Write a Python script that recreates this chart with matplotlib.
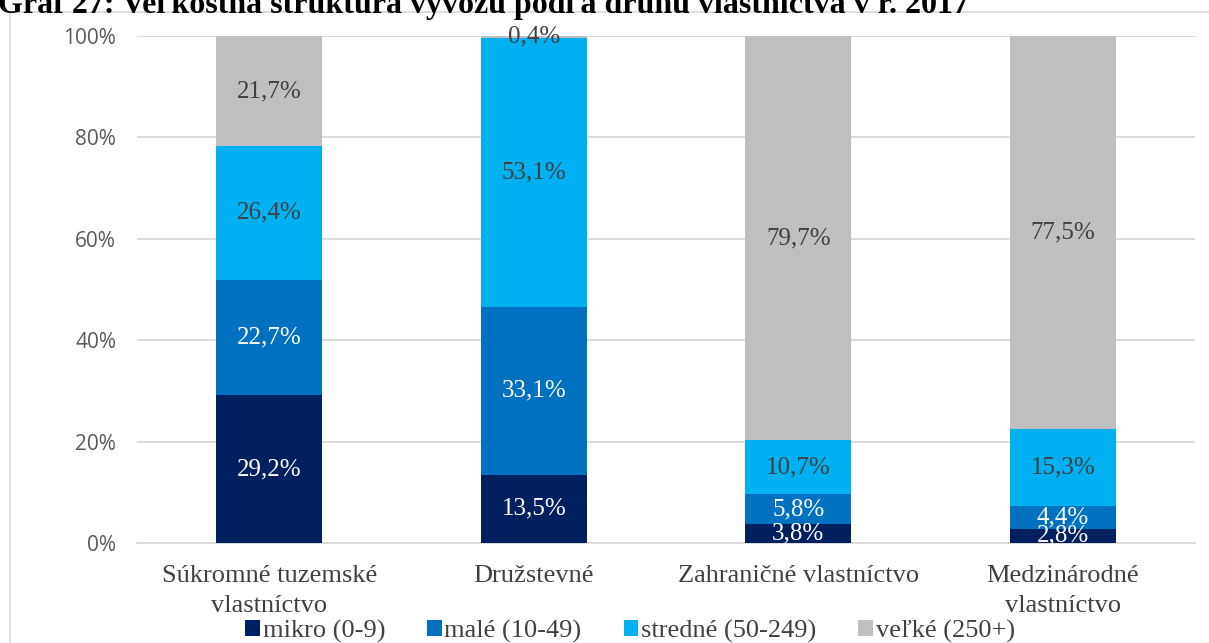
import matplotlib
matplotlib.use("Agg")
import matplotlib.pyplot as plt
from matplotlib.patches import Rectangle
import numpy as np

categories = ["Súkromné tuzemské\nvlastníctvo", "Družstevné", "Zahraničné vlastníctvo", "Medzinárodné\nvlastníctvo"]
series_names = ["mikro (0-9)", "malé (10-49)", "stredné (50-249)", "veľké (250+)"]
mikro = [29.2, 13.5, 3.8, 2.8]
male = [22.7, 33.1, 5.8, 4.4]
stredne = [26.4, 53.1, 10.7, 15.3]
velke = [21.7, 0.4, 79.7, 77.5]
yticks = [0, 20, 40, 60, 80, 100]
title = "Graf 27: Veľkostná štruktúra vývozu podľa druhu vlastníctva v r. 2017"

colors = ["#002060", "#0070C0", "#00B0F0", "#BFBFBF"]
label_colors = ["white", "white", "#404040", "#404040"]

W, H = 1209, 643
fig = plt.figure(figsize=(W / 100, H / 100), dpi=100)
ax = fig.add_axes([137 / W, (H - 543) / H, (1195 - 137) / W, (543 - 36) / H])

serif = "Liberation Serif"
x = np.arange(len(categories))
bottom = np.zeros(len(categories))
series = [mikro, male, stredne, velke]
clip_rect = Rectangle((0, 0), 1, 1.2, transform=ax.transAxes, visible=False)
ax.add_patch(clip_rect)
for vals, name, col, lc in zip(series, series_names, colors, label_colors):
    vals = np.array(vals)
    ax.bar(x, vals, 0.4, bottom=bottom, color=col, label=name, zorder=3)
    for xi, b, v in zip(x, bottom, vals):
        t = ax.text(xi, b + v / 2, f"{v:.1f}%".replace(".", ","), ha="center", va="center",
                    color=lc, fontsize=18, family=serif, zorder=4)
        t.set_clip_path(clip_rect)
    bottom += vals

ax.set_xlim(-0.5, len(categories) - 0.5)
ax.set_ylim(0, 100)
ax.set_yticks(yticks)
ax.set_yticklabels([f"{v}%" for v in yticks], family="Open Sans", fontsize=15, color="#595959")
ax.yaxis.grid(True, color="#D9D9D9", linewidth=1.3, zorder=0)
ax.set_axisbelow(True)
ax.tick_params(axis="y", length=0, pad=15)
ax.tick_params(axis="x", length=0, pad=16)
ax.set_xticks(x)
ax.set_xticklabels(categories, family=serif, fontsize=19, color="#404040", linespacing=1.45, va="top")
for s in ["top", "right", "left"]:
    ax.spines[s].set_visible(False)
ax.spines["bottom"].set_color("#D9D9D9")
ax.spines["bottom"].set_linewidth(1.3)

leg = fig.legend(loc="center", bbox_to_anchor=(630 / W, 1 - 631 / H), ncol=4, frameon=False,
                 prop={"family": serif, "size": 19}, handlelength=0.55, handleheight=0.55,
                 handletextpad=0.1, columnspacing=1.6, borderpad=0)
for txt in leg.get_texts():
    txt.set_color("#404040")

# chart frame
fig.patches.append(Rectangle((10 / W, -0.1), 1.2, 1.1 - 12 / H, transform=fig.transFigure,
                             fill=False, edgecolor="#D9D9D9", linewidth=1.2))
fig.text(-2 / W, 1 - 13 / H, title, family=serif, fontweight="bold", fontsize=23,
         ha="left", va="baseline", color="black")

fig.savefig("out.png", dpi=100)
